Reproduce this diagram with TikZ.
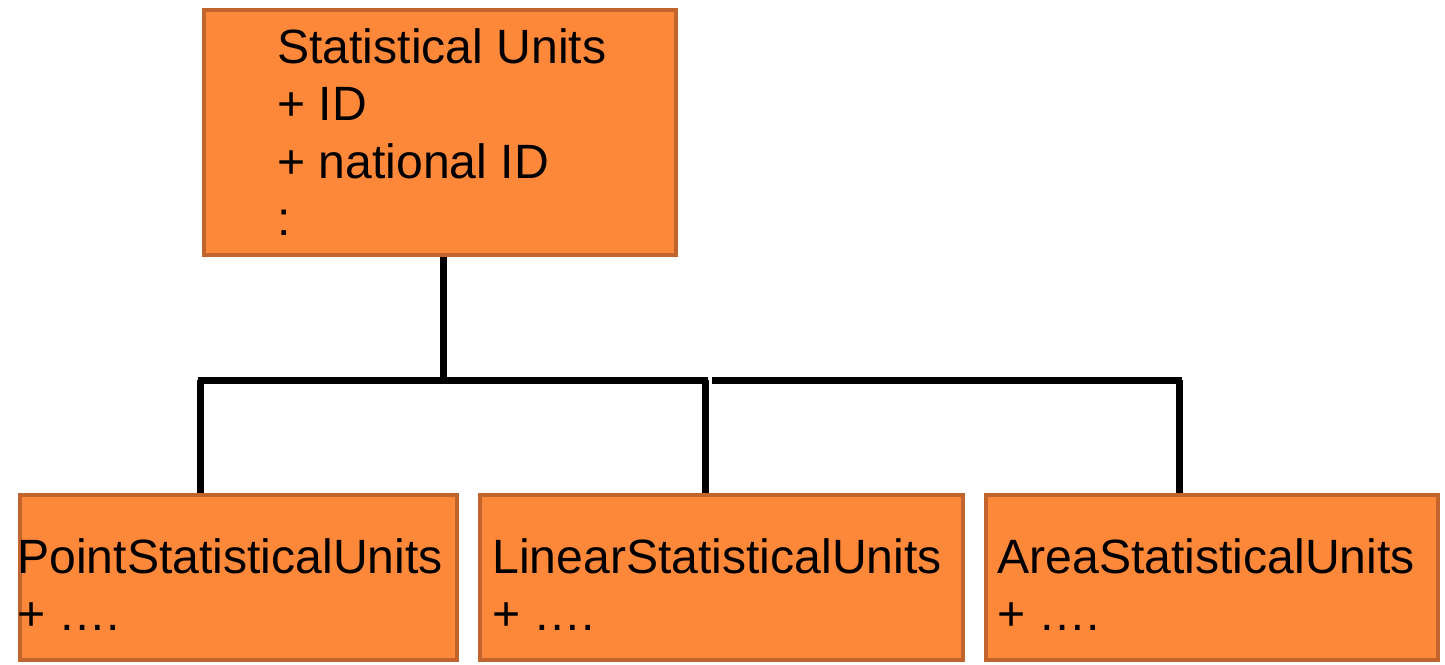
\documentclass[tikz,border=0pt]{standalone}
\usepackage{fontspec}
\setmainfont{Liberation Sans}
\definecolor{boxfill}{RGB}{254,136,57}
\definecolor{boxline}{RGB}{193,100,45}

\begin{document}
\begin{tikzpicture}[x=0.02cm, y=-0.02cm,
  unitbox/.style = {draw=boxline, fill=boxfill, line width=0.08cm,
    inner sep=0pt},
  unittext/.style = {inner sep=0pt, align=left, anchor=north west,
    font=\fontsize{27.4pt}{32.7pt}\selectfont},
  conn/.style = {line width=0.14cm, black}]
  \useasboundingbox (0,0) rectangle (1445,664);

  % boxes
  \node[unitbox, minimum width=9.44cm, minimum height=4.9cm] (su) at (440,132.5) {};
  \node[unitbox, minimum width=8.74cm, minimum height=3.3cm] (psu) at (238.5,577.5) {};
  \node[unitbox, minimum width=9.66cm, minimum height=3.3cm] (lsu) at (721.5,577.5) {};
  \node[unitbox, minimum width=9.04cm, minimum height=3.3cm] (asu) at (1212,577.5) {};

  % texts
  \node[unittext] (sutext) at (277,28) {Statistical Units\\+ ID\\+ national ID\\:};
  \node[unittext] (psutext) at (17,538) {PointStatisticalUnits\\+ ….};
  \node[unittext] (lsutext) at (492,538) {LinearStatisticalUnits\\+ ….};
  \node[unittext] (asutext) at (997,538) {AreaStatisticalUnits\\+ ….};

  % connectors
  \coordinate (hub) at (443,380);
  \coordinate (p) at (200,380);
  \coordinate (l) at (705,380);
  \coordinate (a) at (1179,380);
  \draw[conn] (su.south -| hub) -- (hub);
  \draw[conn] ([xshift=-0.05cm]p) -- (708,380);
  \draw[conn] (712,380) -- ([xshift=0.05cm]a);
  \draw[conn] (p) -- (p |- psu.north);
  \draw[conn] (l) -- (l |- lsu.north);
  \draw[conn] (a) -- (a |- asu.north);
\end{tikzpicture}
\end{document}
